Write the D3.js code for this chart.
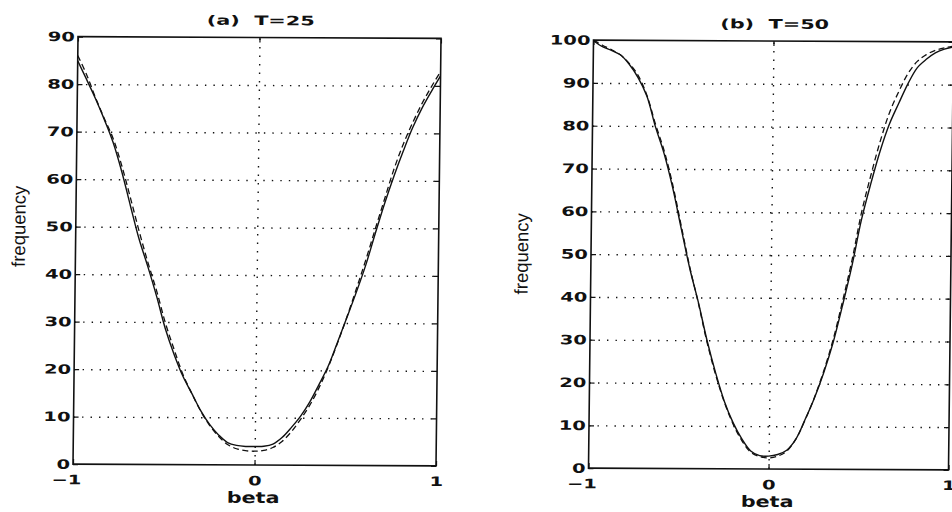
<!DOCTYPE html>
<html lang="en">
<head>
<meta charset="utf-8">
<title>frequency vs beta</title>
<script src="https://cdn.jsdelivr.net/npm/d3@7"></script>
<style>
  body {margin: 0; background: #fff;}
  svg {display: block;}
  .lbl {font-family: "DejaVu Sans", sans-serif; font-weight: bold; fill: #111;}
  .ylab {font-family: "Liberation Sans", Arial, sans-serif; fill: #111;}
</style>
</head>
<body>
<svg width="952" height="512"></svg>
<script>
// beta values shared by every curve
var beta = [-1, -0.95, -0.9, -0.85, -0.8, -0.75, -0.7, -0.65, -0.6, -0.55, -0.5,
            -0.45, -0.4, -0.35, -0.3, -0.25, -0.2, -0.15, -0.1, -0.05, 0,
            0.05, 0.1, 0.15, 0.2, 0.25, 0.3, 0.35, 0.4, 0.45, 0.5,
            0.55, 0.6, 0.65, 0.7, 0.75, 0.8, 0.85, 0.9, 0.95, 1];

// (a) T=25
var freqA_solid = [84.9, 81.0, 77.0, 72.6, 67.8, 61.6, 54.4, 47.4, 41.6, 35.4, 28.6,
                   23.2, 18.6, 15.0, 11.4, 8.5, 6.3, 4.7, 4.1, 3.9, 3.9,
                   3.95, 4.4, 5.8, 7.9, 10.3, 13.3, 17.0, 20.9, 26.0, 31.2,
                   36.5, 42.2, 48.8, 55.2, 61.0, 66.3, 71.2, 75.3, 78.8, 82.1];
var freqA_dash  = [86.0, 82.0, 77.2, 72.8, 68.6, 62.8, 56.0, 49.0, 42.5, 36.5, 29.8,
                   24.2, 19.0, 15.0, 11.3, 8.3, 6.0, 4.3, 3.4, 3.0, 2.9,
                   3.1, 3.7, 5.0, 7.0, 9.6, 12.6, 16.3, 20.7, 25.8, 31.3,
                   37.2, 43.3, 49.8, 56.2, 62.5, 67.8, 72.3, 76.3, 79.8, 83.0];

// (b) T=50
var freqB_solid = [99.8, 98.5, 97.6, 96.6, 94.4, 91.3, 87.0, 79.8, 73.5, 65.5, 56.0,
                   46.7, 38.8, 30.0, 22.4, 15.8, 10.8, 7.0, 4.2, 3.1, 3.0,
                   3.4, 4.4, 7.0, 11.6, 16.6, 22.5, 29.5, 38.2, 47.5, 58.3,
                   66.8, 74.5, 80.8, 85.6, 90.2, 93.9, 95.9, 97.4, 98.3, 98.8];
var freqB_dash  = [100, 98.8, 97.8, 96.6, 94.6, 91.8, 87.2, 80.4, 74.2, 66.2, 56.6,
                   47.0, 38.6, 29.6, 22.0, 15.6, 10.5, 6.6, 3.9, 2.9, 2.6,
                   3.0, 4.2, 7.0, 11.5, 16.7, 22.9, 30.2, 39.2, 48.8, 60.0,
                   68.8, 76.8, 83.5, 88.4, 92.6, 95.4, 97.0, 98.0, 98.6, 99.0];

var xTicks = [-1, 0, 1];
var yTicksA = [0, 10, 20, 30, 40, 50, 60, 70, 80, 90];
var yTicksB = [0, 10, 20, 30, 40, 50, 60, 70, 80, 90, 100];
var titles = ["(a)  T=25", "(b)  T=50"];

var svg = d3.select("svg");
var ink = "#111";

function panel(opt) {
    var cx = (opt.x0 + opt.x1) / 2, cy = (opt.y0 + opt.y1) / 2;
    // the scan is slightly tilted
    var g = svg.append("g")
        .attr("transform", "translate(" + cx + "," + cy + ") matrix(1,0.005,-0.0117,1,0,0) translate(" + (-cx) + "," + (-cy) + ")");

    var x = d3.scaleLinear().domain([-1, 1]).range([opt.x0, opt.x1]);
    var y = d3.scaleLinear().domain([0, opt.ymax]).range([opt.y1, opt.y0]);
    var w = opt.x1 - opt.x0, h = opt.y1 - opt.y0;

    // dotted grid
    var gy = g.append("g").attr("transform", "translate(" + opt.x0 + ",0)")
        .call(d3.axisLeft(y).tickValues(opt.yTicks.slice(1, -1)).tickSize(-w).tickFormat(""));
    var gx = g.append("g").attr("transform", "translate(0," + opt.y1 + ")")
        .call(d3.axisBottom(x).tickValues([0]).tickSize(h).tickFormat(""))
    gx.selectAll("line").attr("y2", -h);
    [gy, gx].forEach(function (s) {
        s.select(".domain").remove();
        s.selectAll("line").attr("stroke", ink).attr("stroke-width", 1.4).attr("stroke-dasharray", "1.4,7.1");
    });

    // inward ticks on all four sides
    var tk = 5;
    var sides = [
        d3.axisLeft(y).tickValues(opt.yTicks).tickSize(-tk), opt.x0, 0,
        d3.axisRight(y).tickValues(opt.yTicks).tickSize(-tk), opt.x1, 0,
        d3.axisBottom(x).tickValues(xTicks).tickSize(-tk), 0, opt.y1,
        d3.axisTop(x).tickValues(xTicks).tickSize(-tk), 0, opt.y0
    ];
    for (var i = 0; i < sides.length; i += 3) {
        var a = g.append("g").attr("transform", "translate(" + sides[i + 1] + "," + sides[i + 2] + ")")
            .call(sides[i].tickFormat(""));
        a.select(".domain").remove();
        a.selectAll("line").attr("stroke", ink).attr("stroke-width", 1.2);
    }

    // curves
    var line = d3.line()
        .x(function (d, i) { return x(beta[i]); })
        .y(function (d) { return y(d); })
        .curve(d3.curveCatmullRom.alpha(0.5));
    g.append("path").datum(opt.dash).attr("d", line)
        .attr("fill", "none").attr("stroke", ink).attr("stroke-width", 1.3)
        .attr("stroke-dasharray", "6,3.5");
    g.append("path").datum(opt.solid).attr("d", line)
        .attr("fill", "none").attr("stroke", ink).attr("stroke-width", 1.4);

    // frame
    g.append("rect").attr("x", opt.x0).attr("y", opt.y0).attr("width", w).attr("height", h)
        .attr("fill", "none").attr("stroke", ink).attr("stroke-width", 1.6);

    // tick labels (wide lettering of the scan)
    var ly = g.append("g").attr("transform", "translate(" + opt.x0 + ",0)")
        .call(d3.axisLeft(y).tickValues(opt.yTicks).tickSize(0).tickPadding(2));
    var lx = g.append("g").attr("transform", "translate(0," + opt.y1 + ")")
        .call(d3.axisBottom(x).tickValues(xTicks).tickSize(0).tickPadding(11).tickFormat(d3.format("d")));
    [ly, lx].forEach(function (s) {
        s.select(".domain").remove();
        s.attr("font-family", null).attr("font-size", null);
        s.selectAll("text").attr("class", "lbl").style("font-size", "13px")
            .attr("fill", ink).attr("transform", "scale(1.5,1)");
    });
    lx.selectAll("text").filter(function (d) { return d < 0; }).attr("dx", "-0.35em");

    // title
    g.append("text").attr("class", "lbl")
        .attr("transform", "translate(" + (x(0) + 1) + "," + (opt.y0 - 12.5) + ") scale(1.6,1)")
        .attr("text-anchor", "middle").style("font-size", "13px").style("white-space", "pre")
        .text(opt.title);

    // axis labels
    g.append("text").attr("class", "lbl")
        .attr("transform", "translate(" + (x(0) - 1) + "," + (opt.y1 + 38) + ") scale(1.34,1)")
        .attr("text-anchor", "middle").style("font-size", "15.5px")
        .text("beta");
    g.append("text").attr("class", "ylab")
        .attr("transform", "translate(" + opt.labX + "," + y(50) + ") rotate(-90)")
        .attr("text-anchor", "middle").style("font-size", "18.5px")
        .text("frequency");
}

panel({x0: 75.5, x1: 438.5, y0: 37.5, y1: 465, ymax: 90, yTicks: yTicksA,
       solid: freqA_solid, dash: freqA_dash, title: titles[0], labX: 25});
panel({x0: 591, x1: 951, y0: 41, y1: 469, ymax: 100, yTicks: yTicksB,
       solid: freqB_solid, dash: freqB_dash, title: titles[1], labX: 528});
</script>
</body>
</html>
